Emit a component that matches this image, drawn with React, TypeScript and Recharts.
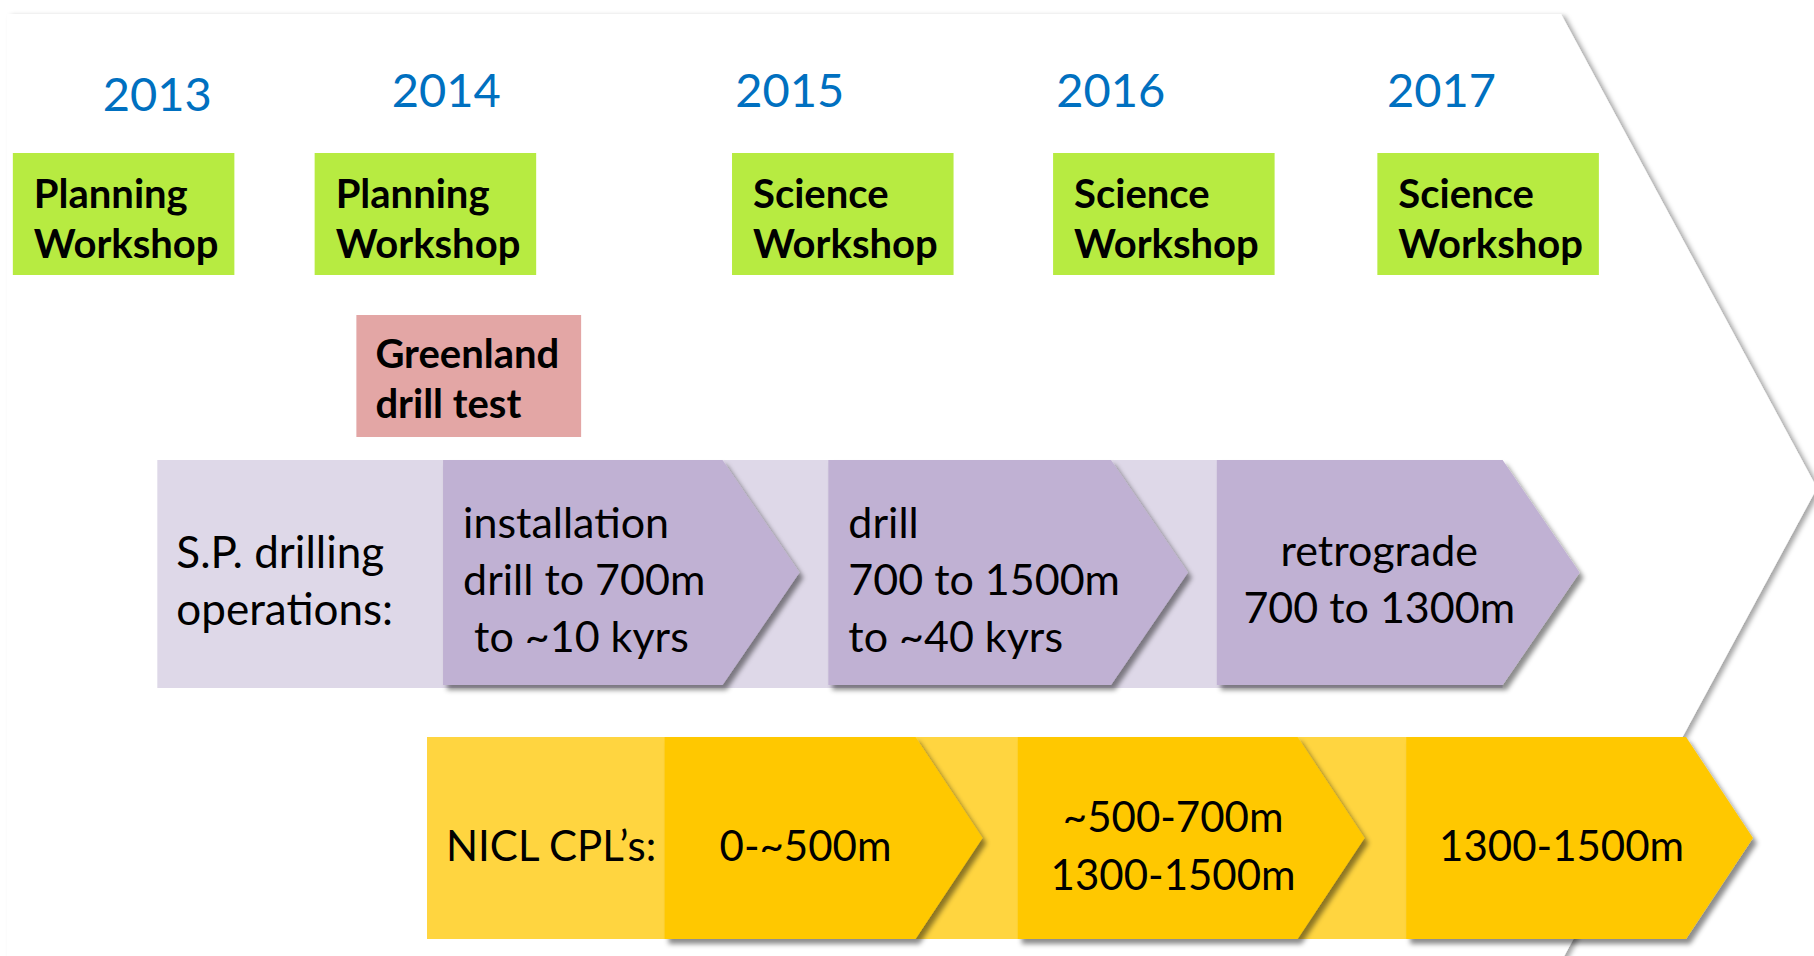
import React from "react";
import { ComposedChart, ReferenceArea, Scatter, XAxis, YAxis } from "recharts";

const WIDTH = 1814;
const HEIGHT = 956;
const FONT = "Lato, 'Open Sans', sans-serif";

// timeline in years (fractional)
const YEAR_MIN = 2012.5;
const YEAR_MAX = 2018.15;

const years = ["2013", "2014", "2015", "2016", "2017"];
const yearPos = [2012.99, 2013.89, 2014.96, 2015.96, 2016.99];

const workshopLabels = [
  ["Planning", "Workshop"],
  ["Planning", "Workshop"],
  ["Science", "Workshop"],
  ["Science", "Workshop"],
  ["Science", "Workshop"],
];
const workshopStart = [2012.54, 2013.48, 2014.78, 2015.78, 2016.79];
const workshopEnd = [2013.23, 2014.17, 2015.47, 2016.47, 2017.48];

const testLabel = ["Greenland", "drill test"];
const testStart = 2013.61;
const testEnd = 2014.31;

const drillingTitle = ["S.P. drilling", "operations:"];
const drillingSpan = [2012.99, 2017.18];
const drillingPhases = [
  ["installation", "drill to 700m", " to ~10 kyrs"],
  ["drill", "700 to 1500m", "to ~40 kyrs"],
  ["retrograde", "700 to 1300m"],
];
const drillingStart = [2013.88, 2015.08, 2016.29];
const drillingEnd = [2014.99, 2016.2, 2017.42];

const cplTitle = ["NICL CPL\u2019s:"];
const cplSpan = [2013.83, 2017.74];
const cplPhases = [["0-~500m"], ["~500-700m", "1300-1500m"], ["1300-1500m"]];
const cplStart = [2014.57, 2015.67, 2016.88];
const cplEnd = [2015.56, 2016.75, 2017.96];

// vertical layout (pixels)
const YEAR_BASE = [111, 107, 107, 107, 107];
const WORKSHOP_ROW = [153, 275];
const TEST_ROW = [315, 437];
const DRILL_ROW = [460, 688];
const DRILL_ARROW_ROW = [460, 685];
const CPL_ROW = [737, 939];

type BlockStyle = {
  fill: string;
  depth: number;
  shadow?: boolean;
  align: "start" | "middle";
  pad: number;
  gap: number;
  offset: number;
  size: number;
  weight: number;
};

const renderBlock = (lines: string[], s: BlockStyle) => (p: any) => {
  const x = Number(p.x);
  const y = Number(p.y);
  const w = Number(p.width);
  const h = Number(p.height);
  const d = s.depth;
  const pts =
    d > 0
      ? `${x},${y} ${x + w - d},${y} ${x + w},${y + h / 2} ${x + w - d},${y + h} ${x},${y + h}`
      : `${x},${y} ${x + w},${y} ${x + w},${y + h} ${x},${y + h}`;
  const tx = s.align === "start" ? x + s.pad : x + w / 2 + s.pad;
  const cy = y + h / 2 + s.offset;
  return (
    <g>
      <polygon
        points={pts}
        fill={s.fill}
        filter={s.shadow ? "url(#blockShadow)" : undefined}
      />
      {lines.map((line, i) => (
        <text
          key={i}
          x={tx}
          y={cy + (i - (lines.length - 1) / 2) * s.gap}
          textAnchor={s.align}
          fontFamily={FONT}
          fontSize={s.size}
          fontWeight={s.weight}
          fill="#000"
          xmlSpace="preserve"
        >
          {line}
        </text>
      ))}
    </g>
  );
};

// the big white chevron behind everything
const renderBackdrop = (p: any) => {
  const x = Number(p.x);
  const y = Number(p.y);
  const w = Number(p.width);
  const pts = `${x + 7},${y + 14} ${x + w - 253},${y + 14} ${x + w + 3},${y + 488} ${x + w - 253},${y + 962} ${x + 7},${y + 962}`;
  return (
    <g>
      <defs>
        <filter id="blockShadow" x="-10%" y="-10%" width="130%" height="140%">
          <feDropShadow dx="4" dy="5" stdDeviation="2.5" floodColor="#000" floodOpacity="0.45" />
        </filter>
        <filter id="bigShadow" x="-5%" y="-5%" width="115%" height="115%">
          <feDropShadow dx="4" dy="2" stdDeviation="2.5" floodColor="#000" floodOpacity="0.35" />
        </filter>
      </defs>
      <polygon points={pts} fill="#ffffff" filter="url(#bigShadow)" />
    </g>
  );
};

const greenStyle: BlockStyle = { fill: "#B7EB41", depth: 0, align: "start", pad: 21, gap: 50, offset: 19, size: 40, weight: 700 };
const pinkStyle: BlockStyle = { fill: "#E3A6A5", depth: 0, align: "start", pad: 19, gap: 50, offset: 17, size: 40, weight: 700 };
const drillBand: BlockStyle = { fill: "#DED8E8", depth: 0, align: "start", pad: 19, gap: 57, offset: 22, size: 44, weight: 400 };
const drillArrow: BlockStyle = { fill: "#C0B1D3", depth: 77, shadow: true, align: "start", pad: 20, gap: 57, offset: 22, size: 43, weight: 400 };
const cplBand: BlockStyle = { fill: "#FFD540", depth: 0, align: "start", pad: 19, gap: 58, offset: 23, size: 42, weight: 400 };
const cplArrow: BlockStyle = { fill: "#FFC800", depth: 67, shadow: true, align: "middle", pad: -18, gap: 58, offset: 23, size: 42, weight: 400 };
const drillAlign: Array<"start" | "middle"> = ["start", "start", "middle"];

const yearRows = years.map((label, i) => ({ x: yearPos[i], y: YEAR_BASE[i], label }));

const renderYear = (p: any) => (
  <text
    x={p.cx}
    y={p.cy}
    textAnchor="middle"
    fontFamily={FONT}
    fontSize={47}
    fill="#0070C0"
  >
    {p.payload.label}
  </text>
);

export default function App() {
  return (
    <div style={{ position: "fixed", left: 0, top: 0, width: WIDTH, height: HEIGHT, background: "#fff" }}>
      <ComposedChart width={WIDTH} height={HEIGHT} margin={{ top: 0, right: 0, bottom: 0, left: 0 }}>
        <XAxis type="number" dataKey="x" domain={[YEAR_MIN, YEAR_MAX]} hide allowDataOverflow />
        <YAxis type="number" dataKey="y" domain={[0, HEIGHT]} reversed hide allowDataOverflow />

        <ReferenceArea x1={YEAR_MIN} x2={YEAR_MAX} y1={0} y2={HEIGHT} shape={renderBackdrop} />

        {workshopLabels.map((lines, i) => (
          <ReferenceArea
            key={`ws${i}`}
            x1={workshopStart[i]}
            x2={workshopEnd[i]}
            y1={WORKSHOP_ROW[0]}
            y2={WORKSHOP_ROW[1]}
            shape={renderBlock(lines, greenStyle)}
          />
        ))}

        <ReferenceArea x1={testStart} x2={testEnd} y1={TEST_ROW[0]} y2={TEST_ROW[1]} shape={renderBlock(testLabel, pinkStyle)} />

        <ReferenceArea
          x1={drillingSpan[0]}
          x2={drillingSpan[1]}
          y1={DRILL_ROW[0]}
          y2={DRILL_ROW[1]}
          shape={renderBlock(drillingTitle, drillBand)}
        />
        {drillingPhases.map((lines, i) => (
          <ReferenceArea
            key={`dr${i}`}
            x1={drillingStart[i]}
            x2={drillingEnd[i]}
            y1={DRILL_ARROW_ROW[0]}
            y2={DRILL_ARROW_ROW[1]}
            shape={renderBlock(
              lines,
              drillAlign[i] === "start" ? drillArrow : { ...drillArrow, align: "middle", pad: -19 },
            )}
          />
        ))}

        <ReferenceArea
          x1={cplSpan[0]}
          x2={cplSpan[1]}
          y1={CPL_ROW[0]}
          y2={CPL_ROW[1]}
          shape={renderBlock(cplTitle, cplBand)}
        />
        {cplPhases.map((lines, i) => (
          <ReferenceArea
            key={`cp${i}`}
            x1={cplStart[i]}
            x2={cplEnd[i]}
            y1={CPL_ROW[0]}
            y2={CPL_ROW[1]}
            shape={renderBlock(lines, cplArrow)}
          />
        ))}

        <Scatter data={yearRows} dataKey="y" shape={renderYear} isAnimationActive={false} />
      </ComposedChart>
    </div>
  );
}
